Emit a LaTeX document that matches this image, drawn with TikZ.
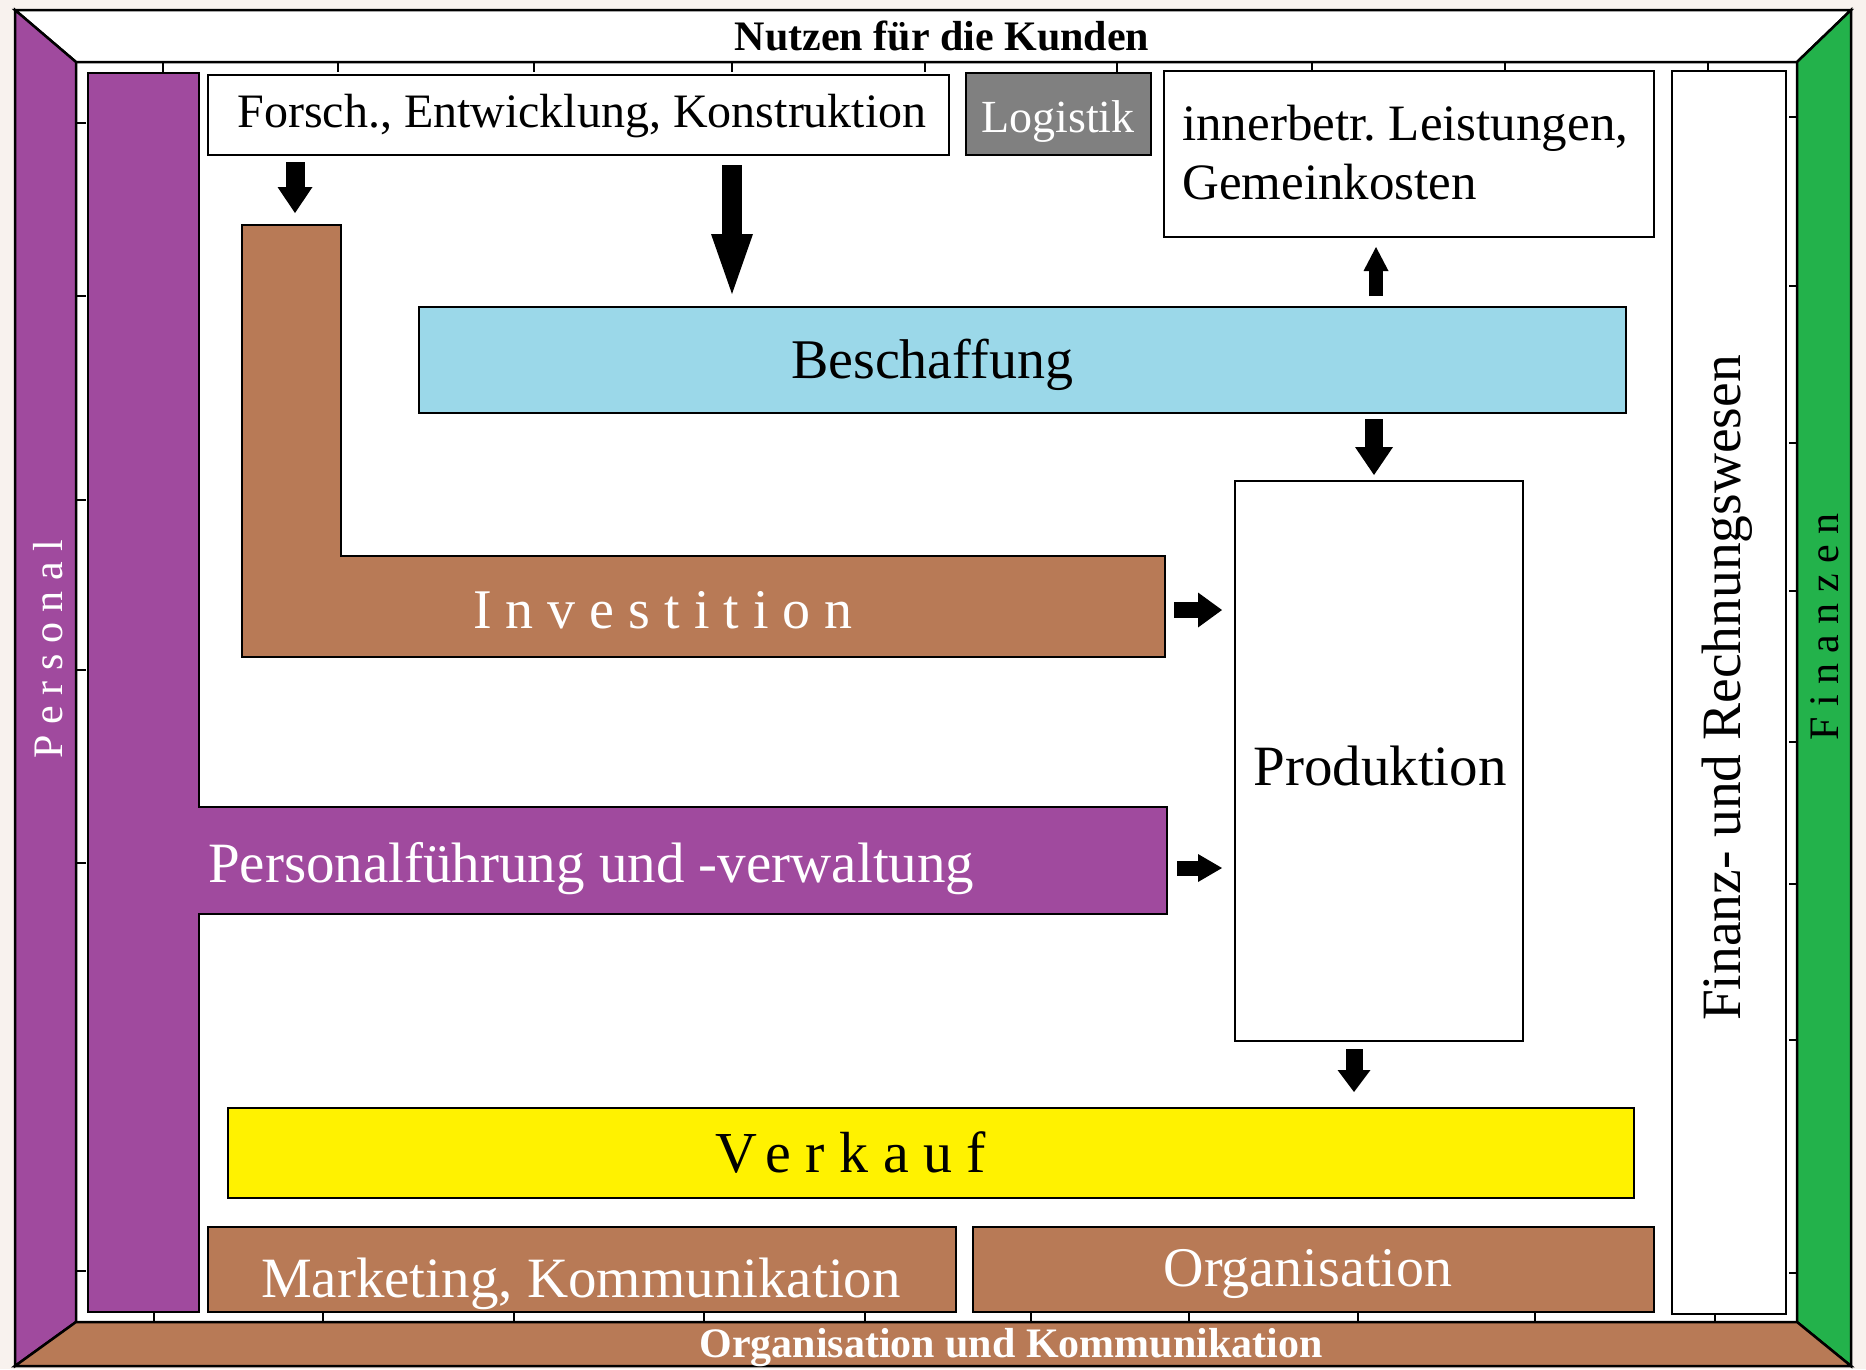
\documentclass[tikz,border=0pt]{standalone}
\usepackage{fontspec}
\setmainfont{Liberation Serif}
\usetikzlibrary{arrows.meta,calc}
\definecolor{purp}{RGB}{160,74,158}
\definecolor{brn}{RGB}{184,122,86}
\definecolor{grn}{RGB}{35,178,75}
\definecolor{ylw}{RGB}{255,242,0}
\definecolor{lblue}{RGB}{155,216,233}
\definecolor{gry}{RGB}{128,128,128}
\definecolor{bgc}{RGB}{248,242,238}
\newcommand{\fsz}[2]{\fontsize{#1}{#2}\selectfont}
\frenchspacing
\begin{document}
\begin{tikzpicture}[x=1pt,y=-1pt,
  frm/.style={draw=black,line width=2.5pt,line join=miter},
  box/.style={draw=black,line width=2pt,anchor=north west,inner sep=0pt,outer sep=0pt},
  shp/.style={draw=black,line width=2pt},
  lbl/.style={inner sep=0pt,anchor=base},
  tck/.style={draw=black,line width=1.5pt},
  blk/.style n args={3}{line width=#1,-{Triangle[width=#2,length=#3,line width=0pt]}}]
\useasboundingbox (0,0) rectangle (1866,1369);
\fill[bgc] (0,0) rectangle (1866,1369);
% frame
\coordinate (o1) at (15,10);
\coordinate (o2) at (1851,10);
\coordinate (o3) at (1851,1366);
\coordinate (o4) at (15,1366);
\coordinate (i1) at (76,62);
\coordinate (i2) at (1797,62);
\coordinate (i3) at (1797,1322);
\coordinate (i4) at (76,1322);
\fill[white] (o1) rectangle (o3);
\draw[frm,fill=white] (o1) -- (o2) -- (i2) -- (i1) -- cycle;
\draw[frm,fill=purp] (o1) -- (i1) -- (i4) -- (o4) -- cycle;
\draw[frm,fill=grn] (o2) -- (i2) -- (i3) -- (o3) -- cycle;
\draw[frm,fill=brn] (o4) -- (i4) -- (i3) -- (o3) -- cycle;
\draw[frm] (o1) rectangle (o3);
% ticks
\foreach \x in {163,338,534,732,925,1117,1312,1505,1708} \draw[tck] (\x,62) -- (\x,72);
\foreach \x in {154,323,514,704,865,1031,1189,1358,1535,1715} \draw[tck] (\x,1322) -- (\x,1312);
\foreach \y in {123,296,500,670,863,1271} \draw[tck] (76,\y) -- (86,\y);
\foreach \y in {117,286,443,591,742,884,1040,1273} \draw[tck] (1797,\y) -- (1789,\y);
% boxes
\node[box,fill=white,minimum width=741pt,minimum height=80pt] (forsch) at (208,75) {};
\node[box,fill=gry,minimum width=185pt,minimum height=82pt] (logi) at (966,73) {};
\node[box,fill=white,minimum width=490pt,minimum height=166pt] (inner) at (1164,71) {};
\node[box,fill=white,minimum width=114pt,minimum height=1243pt] (finrw) at (1672,71) {};
\node[box,fill=lblue,minimum width=1207pt,minimum height=106pt] (besch) at (419,307) {};
\node[box,fill=white,minimum width=288pt,minimum height=560pt] (prod) at (1235,481) {};
\node[box,fill=ylw,minimum width=1406pt,minimum height=90pt] (verk) at (228,1108) {};
\node[box,fill=brn,minimum width=748pt,minimum height=85pt] (mark) at (208,1227) {};
\node[box,fill=brn,minimum width=681pt,minimum height=85pt] (orga) at (973,1227) {};
% L-shapes
\draw[shp,fill=purp] (88,73) -- (199,73) -- (199,807) -- (1167,807) -- (1167,914) -- (199,914) -- (199,1312) -- (88,1312) -- cycle;
\coordinate (pere) at (1167,868);
\draw[shp,fill=brn] (242,225) -- (341,225) -- (341,556) -- (1165,556) -- (1165,657) -- (242,657) -- cycle;
\coordinate (invtop) at (291.5,225);
\coordinate (inve) at (1165,610);
% arrows
\draw[blk={19pt}{35pt}{26pt}] ($(forsch.south west)+(87,7)$) -- ($(invtop)+(3.5,-12)$);
\draw[blk={20pt}{42pt}{60pt}] ($(forsch.south west)+(524,10)$) -- ($(besch.north west)+(313,-13)$);
\draw[blk={14pt}{25pt}{24pt}] ($(besch.north east)+(-250,-11)$) -- ($(inner.south west)+(212,10)$);
\draw[blk={18pt}{38pt}{28pt}] ($(besch.south east)+(-252,6)$) -- ($(prod.north west)+(139,-6)$);
\draw[blk={16pt}{35pt}{24pt}] ($(inve)+(9,0)$) -- ($(prod.west |- inve)+(-13,0)$);
\draw[blk={15pt}{28pt}{24pt}] ($(pere)+(10,0)$) -- ($(prod.west |- pere)+(-13,0)$);
\draw[blk={17pt}{33pt}{22pt}] ($(prod.south west)+(119,8)$) -- ($(verk.north west)+(1126,-16)$);
% texts
\node[lbl,font={\bfseries\fsz{42}{50}}] (nutzT) at (942,50) {Nutzen für die Kunden};
\node[lbl,font={\fsz{48}{58}}] (forschT) at (582,127) {Forsch., Entwicklung, Konstruktion};
\node[lbl,font={\fsz{46}{55}},text=white] (logT) at (1058,132) {Logistik};
\node[lbl,anchor=base west,font={\fsz{51}{60}}] (innT1) at (1182,140) {innerbetr. Leistungen,};
\node[lbl,anchor=base west,font={\fsz{51}{60}}] (innT2) at (1182,199) {Gemeinkosten};
\node[lbl,font={\fsz{56}{67}}] (beschT) at (932,378) {Beschaffung};
\node[lbl,font={\fsz{56}{67}\addfontfeatures{LetterSpace=25}},text=white] (invT) at (663,628) {Investition};
\node[lbl,anchor=base west,font={\fsz{57}{68}},text=white] (perfT) at (208,882) {Personalführung und -verwaltung};
\node[lbl,font={\fsz{57}{68}}] (prodT) at (1380,785) {Produktion};
\node[lbl,font={\fsz{58}{70}\addfontfeatures{LetterSpace=25}}] (verkT) at (851,1172) {Verkauf};
\node[lbl,font={\fsz{57}{68}},text=white] (markT) at (581,1297) {Marketing, Kommunikation};
\node[lbl,font={\fsz{56}{67}},text=white] (orgT) at (1308,1286) {Organisation};
\node[lbl,font={\bfseries\fsz{42}{50}},text=white] (okT) at (1011,1357) {Organisation und Kommunikation};
\node[lbl,rotate=90,font={\fsz{55.5}{66}}] (finrwT) at (1740,688) {Finanz- und Rechnungswesen};
\node[lbl,rotate=90,font={\fsz{42}{50}\addfontfeatures{LetterSpace=25}},text=white] (persT) at (62,649) {Personal};
\node[lbl,rotate=90,font={\fsz{42}{50}\addfontfeatures{LetterSpace=25}}] (finzT) at (1838,627) {Finanzen};
\end{tikzpicture}
\end{document}
